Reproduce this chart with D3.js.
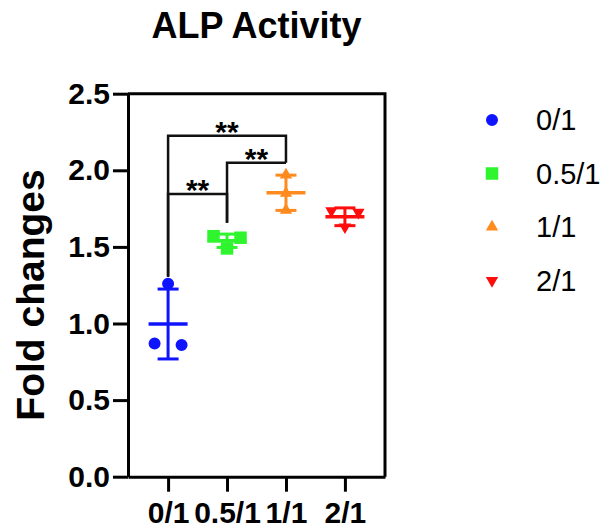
<!DOCTYPE html>
<html>
<head>
<meta charset="utf-8">
<script src="https://cdn.jsdelivr.net/npm/d3@7"></script>
<style>
  body { margin: 0; background: #fff; }
  svg { font-family: "Liberation Sans", Arial, sans-serif; }
</style>
</head>
<body>
<svg id="drawing_region"></svg>
<script>
// groups and their replicate values (fold change)
var categories = ['0/1', '0.5/1', '1/1', '2/1'];
var colors = ['#0f14ff', '#2ef52e', '#ff8a1e', '#ff0d0d'];
var shapes = ['circle', 'square', 'triangle', 'down'];
var values = [
    [1.26, 0.86, 0.87],
    [1.56, 1.57, 1.49],
    [1.97, 1.85, 1.74],
    [1.735, 1.725, 1.63]
];
var yTicks = [0, 0.5, 1.0, 1.5, 2.0, 2.5];

// significance brackets: y of bar, where the left/right legs end
var comparisons = [
    { from: '0/1', to: '1/1', y: 2.226, yFrom: 1.305, yTo: 2.05, label: '**' },
    { from: '0.5/1', to: '1/1', y: 2.05, yFrom: 1.658, yTo: 2.05, label: '**' },
    { from: '0/1', to: '0.5/1', y: 1.845, yFrom: 1.305, yTo: 1.658, label: '**' }
];

var width = 604, height = 530;
var plot = { left: 128, right: 385, top: 93.7, bottom: 476.7 };

var svg = d3.select('#drawing_region')
    .attr('width', width)
    .attr('height', height);

var xScale = d3.scalePoint()
    .domain(categories)
    .range([plot.left, plot.right])
    .padding(0.68);

var yScale = d3.scaleLinear()
    .domain([0, 2.5])
    .range([plot.bottom, plot.top]);

var symbolType = {
    circle: d3.symbolCircle,
    square: d3.symbolSquare,
    triangle: d3.symbolTriangle,
    down: d3.symbolTriangle
};
var symbolSize = { circle: 113, square: 156, triangle: 66, down: 66 };

function symbolPath(shape) {
    return d3.symbol().type(symbolType[shape]).size(symbolSize[shape])();
}

// title
svg.append('text')
    .attr('x', (plot.left + plot.right) / 2)
    .attr('y', 38)
    .attr('text-anchor', 'middle')
    .style('font-size', '36px')
    .style('font-weight', 'bold')
    .text('ALP Activity');

// y axis title
svg.append('text')
    .attr('transform', 'translate(44,295) rotate(-90)')
    .attr('text-anchor', 'middle')
    .style('font-size', '39px')
    .style('font-weight', 'bold')
    .text('Fold changes');

// axes
var yAxis = svg.append('g')
    .attr('transform', 'translate(' + plot.left + ',0)')
    .call(d3.axisLeft(yScale).tickValues(yTicks).tickFormat(d3.format('.1f'))
        .tickSize(15).tickSizeOuter(0).tickPadding(3));

var xAxis = svg.append('g')
    .attr('transform', 'translate(0,' + plot.bottom + ')')
    .call(d3.axisBottom(xScale).tickSize(15).tickSizeOuter(0).tickPadding(10));

[yAxis, xAxis].forEach(function(ax) {
    ax.selectAll('path, line').attr('stroke', '#000').attr('stroke-width', 3);
    ax.selectAll('text')
        .attr('fill', '#000')
        .style('font-size', '30px')
        .style('font-weight', 'bold')
        .style('font-family', '"Liberation Sans", Arial, sans-serif');
});

// frame top and right
svg.append('path')
    .attr('d', 'M' + plot.left + ',' + plot.top + 'H' + plot.right + 'V' + plot.bottom)
    .attr('fill', 'none')
    .attr('stroke', '#000')
    .attr('stroke-width', 3);

// points with simple horizontal spread for near-equal values
var points = [];
categories.forEach(function(c, i) {
    var sorted = values[i].slice().sort(d3.descending);
    var clusters = [];
    sorted.forEach(function(v) {
        var last = clusters[clusters.length - 1];
        if (last && Math.abs(yScale(last[last.length - 1]) - yScale(v)) < 10) last.push(v);
        else clusters.push([v]);
    });
    clusters.forEach(function(cl) {
        cl.forEach(function(v, k) {
            points.push({ cat: c, i: i, v: v, dx: (k - (cl.length - 1) / 2) * 27 });
        });
    });
});

svg.append('g').selectAll('path')
    .data(points)
    .enter()
    .append('path')
    .attr('d', d => symbolPath(shapes[d.i]))
    .attr('transform', d => 'translate(' + (xScale(d.cat) + d.dx) + ',' + yScale(d.v) + ')' +
        (shapes[d.i] === 'down' ? ' rotate(180)' : ''))
    .attr('fill', d => colors[d.i]);

// mean and SD
var stats = categories.map(function(c, i) {
    return { cat: c, i: i, mean: d3.mean(values[i]), sd: d3.deviation(values[i]) };
});

var err = svg.append('g').selectAll('g')
    .data(stats)
    .enter()
    .append('g')
    .attr('stroke', d => colors[d.i]);

err.append('line')
    .attr('x1', d => xScale(d.cat)).attr('x2', d => xScale(d.cat))
    .attr('y1', d => yScale(d.mean + d.sd)).attr('y2', d => yScale(d.mean - d.sd))
    .attr('stroke-width', 3);
err.append('line')
    .attr('x1', d => xScale(d.cat) - 19.5).attr('x2', d => xScale(d.cat) + 19.5)
    .attr('y1', d => yScale(d.mean)).attr('y2', d => yScale(d.mean))
    .attr('stroke-width', 3.5);
[1, -1].forEach(function(s) {
    err.append('line')
        .attr('x1', d => xScale(d.cat) - 10.5).attr('x2', d => xScale(d.cat) + 10.5)
        .attr('y1', d => yScale(d.mean + s * d.sd)).attr('y2', d => yScale(d.mean + s * d.sd))
        .attr('stroke-width', 3);
});

// significance brackets
var br = svg.append('g').selectAll('g')
    .data(comparisons)
    .enter()
    .append('g');

br.append('path')
    .attr('d', d => 'M' + xScale(d.from) + ',' + yScale(d.yFrom) +
        'V' + yScale(d.y) + 'H' + xScale(d.to) + 'V' + yScale(d.yTo))
    .attr('fill', 'none')
    .attr('stroke', '#111')
    .attr('stroke-width', 2.5);

br.append('text')
    .attr('x', d => (xScale(d.from) + xScale(d.to)) / 2)
    .attr('y', d => yScale(d.y) + 6)
    .attr('text-anchor', 'middle')
    .style('font-size', '30px')
    .style('font-weight', 'bold')
    .text(d => d.label);

// legend
var legend = svg.append('g').selectAll('g')
    .data(categories)
    .enter()
    .append('g')
    .attr('transform', (d, i) => 'translate(492,' + (120 + i * 53.5) + ')');

legend.append('path')
    .attr('d', (d, i) => symbolPath(shapes[i]))
    .attr('transform', (d, i) => shapes[i] === 'down' ? 'rotate(180)' : null)
    .attr('fill', (d, i) => colors[i]);

legend.append('text')
    .attr('x', 44)
    .attr('dy', '0.36em')
    .style('font-size', '29px')
    .text(d => d);
</script>
</body>
</html>
